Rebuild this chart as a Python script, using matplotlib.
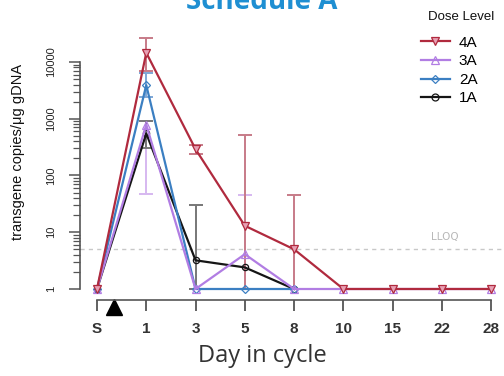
import matplotlib.pyplot as plt
from matplotlib.lines import Line2D
from matplotlib.ticker import FixedLocator, NullFormatter
import matplotlib.transforms as mtransforms
import numpy as np

days = ["S", "1", "3", "5", "8", "10", "15", "22", "28"]

# values per dose level (transgene copies/ug gDNA)
dose_4a = [1, 14500, 290, 13, 5, 1, 1, 1, 1]
dose_3a = [1, 780, 1, 4.1, 1, 1, 1, 1, 1]
dose_2a = [1, 3900, 1, 1, 1]
dose_1a = [1, 550, 3.2, 2.4, 1]

# error bars: (day index, low, high)
err_4a = [(1, 7000, 26000), (2, 240, 340), (3, 1, 520), (4, 1, 45)]
err_3a = [(1, 47, 900), (3, 1, 45)]
err_2a = [(1, 2400, 6400)]
err_1a = [(1, 300, 900), (2, 1, 30)]

lloq = 5

c4 = "#b02a3e"
c3 = "#b17de3"
c2 = "#3b7fc2"
c1 = "#151515"

fig = plt.figure(figsize=(5.04, 3.76), dpi=100)
ax = fig.add_axes([80 / 504, 76 / 376, 424 / 504, 270 / 376])

x = np.arange(len(days))


def draw_err(errs, vals, color):
    for i, lo, hi in errs:
        ax.errorbar([i], [vals[i]], yerr=[[vals[i] - lo], [hi - vals[i]]],
                    fmt="none", ecolor=color, elinewidth=1.4, capsize=5, capthick=1.4, zorder=1)


draw_err(err_3a, dose_3a, "#d6b8f0")
draw_err(err_4a, dose_4a, "#c77b88")
draw_err(err_2a, dose_2a, "#7ea7d6")
draw_err(err_1a, dose_1a, "#777777")

ax.axhline(lloq, color="#c8c8c8", lw=1.0, ls=(0, (3, 3)), zorder=0, clip_on=False)
ax.text(7.05, lloq * 1.35, "LLOQ", color="#b8b8b8", fontsize=7.5, ha="center", va="bottom")

ax.plot(x[:len(dose_1a)], dose_1a, color=c1, lw=1.6, marker="o", ms=4.5, mfc="none", mew=0.9, zorder=3)
ax.plot(x[:len(dose_2a)], dose_2a, color=c2, lw=1.6, marker="D", ms=4, mfc="none", mew=0.9, zorder=3)
ax.plot(x[:len(dose_3a)], dose_3a, color=c3, lw=1.6, marker="^", ms=5.5, mfc="none", mew=0.9, zorder=3)
ax.plot(x[:len(dose_4a)], dose_4a, color=c4, lw=1.6, marker="v", ms=5.5, mfc="#e7a0b4", mew=0.9, zorder=4)

ax.set_yscale("log")
ax.set_ylim(0.64, 36500)
ax.set_xlim(-0.345, 8.26)

for s in ["top", "right"]:
    ax.spines[s].set_visible(False)
ax.spines["left"].set_bounds(1, 10000)
ax.spines["bottom"].set_bounds(0, 8)
for s in ["left", "bottom"]:
    ax.spines[s].set_color("#555555")
    ax.spines[s].set_linewidth(1.2)

ax.set_yticks([1, 10, 100, 1000, 10000])
ax.set_yticklabels(["1", "10", "100", "1000", "10000"], rotation=90, va="center",
                   fontsize=8, color="#222222", family="Liberation Sans")
minor = [m * 10 ** d for d in range(4) for m in range(2, 10)]
ax.yaxis.set_minor_locator(FixedLocator(minor))
ax.yaxis.set_minor_formatter(NullFormatter())
ax.tick_params(axis="y", which="major", length=8, width=1.1, color="#555555", pad=9)
ax.tick_params(axis="y", which="minor", length=5, width=0.9, color="#555555")
ax.set_xticks(x)
ax.set_xticklabels(days, fontsize=11, fontweight="bold", color="#333333", family="Liberation Sans")
ax.tick_params(axis="x", length=8, width=1.3, color="#555555", pad=8)

# dosing marker
trans = mtransforms.blended_transform_factory(ax.transData, ax.transAxes)
ax.plot([0.35], [-0.027], marker="^", ms=12, color="black", transform=trans, clip_on=False)

fig.text(262 / 504, 1 - 356 / 376, "Day in cycle", fontsize=17, color="#333333",
         family="Open Sans", ha="center", va="center")
fig.text(18 / 504, 1 - 152 / 376, "transgene copies/\u03bcg gDNA", rotation=90, fontsize=10.5,
         ha="center", va="center", family="Liberation Sans", color="#111111")

fig.text(262 / 504, 1 - 9 / 376, "Schedule A", fontsize=20, fontweight="bold",
         color="#1f8fd2", ha="center", va="baseline", family="Open Sans")

fig.text(428 / 504, 1 - 17 / 376, "Dose Level", fontsize=9.5, family="Liberation Sans",
         ha="left", va="center", color="#111111")
handles = [
    Line2D([], [], color=c4, lw=1.6, marker="v", ms=6, mfc="#e7a0b4", mew=0.9),
    Line2D([], [], color=c3, lw=1.6, marker="^", ms=6, mfc="none", mew=0.9),
    Line2D([], [], color=c2, lw=1.6, marker="D", ms=4, mfc="none", mew=0.9),
    Line2D([], [], color=c1, lw=1.6, marker="o", ms=5, mfc="none", mew=0.9),
]
fig.legend(handles, ["4A", "3A", "2A", "1A"], loc="upper left",
           bbox_to_anchor=(410 / 504, 1 - 25 / 376), frameon=False,
           prop={"family": "Liberation Sans", "size": 11}, handlelength=1.9,
           labelspacing=0.3, handletextpad=0.6, borderpad=0.2)

fig.savefig("out.png", dpi=100)
